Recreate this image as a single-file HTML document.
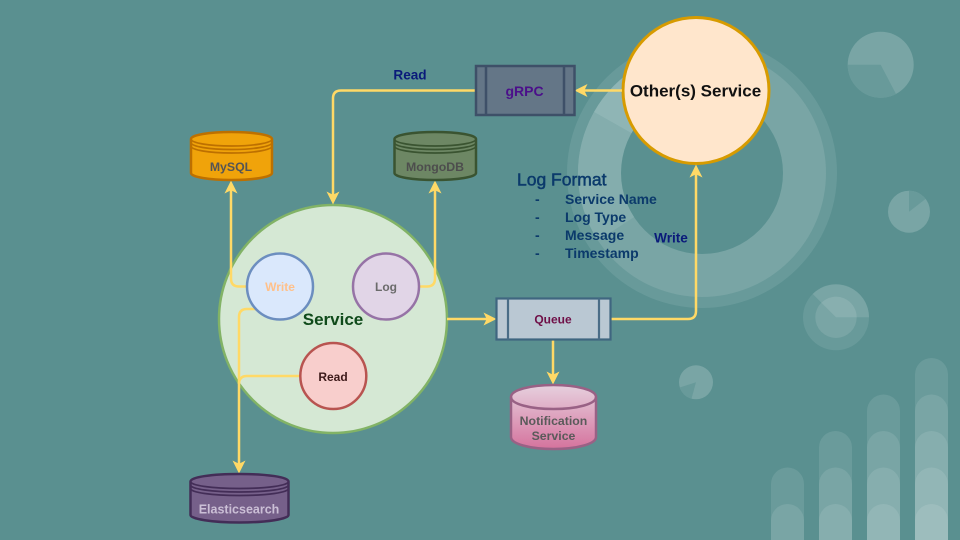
<!DOCTYPE html>
<html><head><meta charset="utf-8"><style>
html,body{margin:0;padding:0;background:#5a9090;overflow:hidden}
svg{display:block;filter:blur(.35px)}
text{font-family:"Liberation Sans",sans-serif;font-weight:bold;text-anchor:middle}
.l{text-anchor:start;font-size:14px;fill:#0b3a6b}
</style></head><body>
<svg width="960" height="540" viewBox="0 0 960 540" xmlns="http://www.w3.org/2000/svg">
<rect x="-5" y="-5" width="970" height="550" fill="#5a9090"/>
<!-- big donut -->
<circle cx="702" cy="173" r="135" fill="#689a9a"/>
<circle cx="702" cy="173" r="124" fill="#79a5a5"/>
<path d="M702,173 L598,240.500 A124,124 0 0 1 594,112 Z" fill="#84adad"/>
<path d="M702,173 L594,112 A124,124 0 0 1 702,49 Z" fill="#8fb5b5"/>
<circle cx="702" cy="173" r="81" fill="#5a9090"/>
<!-- pies -->
<circle cx="880.700" cy="64.700" r="33" fill="#79a5a5"/>
<path d="M880.700,64.700 L847.700,64.700 A33,33 0 0 0 896,94 Z" fill="#689a9a"/>
<circle cx="909" cy="211.700" r="21" fill="#79a5a5"/>
<path d="M909,211.700 L909,190.700 A21,21 0 0 1 925.500,199 Z" fill="#689a9a"/>
<circle cx="836" cy="317.300" r="33" fill="#689a9a"/>
<path d="M836,317.300 L812.700,294 A33,33 0 0 1 869,317.300 Z" fill="#79a5a5"/>
<circle cx="836" cy="317.300" r="20.700" fill="#79a5a5"/>
<path d="M836,317.300 L821.400,302.700 A20.700,20.700 0 0 1 856.700,317.300 Z" fill="#88afaf"/>
<circle cx="696" cy="382.300" r="17" fill="#79a5a5"/>
<path d="M696,382.300 L679.700,387.500 A17,17 0 0 0 691.500,398.700 Z" fill="#689a9a"/>
<!-- bars -->
<g fill="#fff" fill-opacity=".1">
<path d="M771,545V484a16.500,16.500 0 0 1 33,0V545Z"/>
<path d="M771,545V520.500a16.500,16.500 0 0 1 33,0V545Z"/>
<path d="M819,545V447.500a16.500,16.500 0 0 1 33,0V545Z"/>
<path d="M819,545V484a16.500,16.500 0 0 1 33,0V545Z"/>
<path d="M819,545V520.500a16.500,16.500 0 0 1 33,0V545Z"/>
<path d="M867,545V411a16.500,16.500 0 0 1 33,0V545Z"/>
<path d="M867,545V447.500a16.500,16.500 0 0 1 33,0V545Z"/>
<path d="M867,545V484a16.500,16.500 0 0 1 33,0V545Z"/>
<path d="M867,545V520.500a16.500,16.500 0 0 1 33,0V545Z"/>
<path d="M915,545V374.500a16.500,16.500 0 0 1 33,0V545Z"/>
<path d="M915,545V411a16.500,16.500 0 0 1 33,0V545Z"/>
<path d="M915,545V447.500a16.500,16.500 0 0 1 33,0V545Z"/>
<path d="M915,545V484a16.500,16.500 0 0 1 33,0V545Z"/>
<path d="M915,545V520.500a16.500,16.500 0 0 1 33,0V545Z"/>
</g>
<!-- Service circle -->
<circle cx="333" cy="319" r="114" fill="#d5e8d4" stroke="#82b366" stroke-width="2.500"/>
<!-- Other service -->
<circle cx="696" cy="90.500" r="73" fill="#ffe6cc" stroke="#d79b00" stroke-width="3"/>
<!-- connectors -->
<g fill="none" stroke="#ffd966" stroke-width="2.500">
<path d="M476,90.500H341Q333,90.500 333,98.500V196"/>
<path d="M622,90.500H584"/>
<path d="M248,286.500H239Q231,286.500 231,278.500V190"/>
<path d="M419,286.500H427Q435,286.500 435,278.500V190"/>
<path d="M257,309H247Q239,309 239,317V465"/>
<path d="M301,376H247Q239,376 239,384"/>
<path d="M447,319H487"/>
<path d="M553,340V375"/>
<path d="M611,319H688Q696,319 696,311V173"/>
</g>
<g fill="#ffd966">
<path d="M333,204.500l-6.500,-13l6.500,3.200l6.500,-3.200z"/>
<path d="M574.500,90.500l13,-6.500l-3.200,6.500l3.200,6.500z"/>
<path d="M231,180.500l-6.500,13l6.500,-3.200l6.500,3.200z"/>
<path d="M435,180.500l-6.500,13l6.500,-3.200l6.500,3.200z"/>
<path d="M239,473.500l-6.500,-13l6.500,3.200l6.500,-3.200z"/>
<path d="M496.500,319l-13,-6.500l3.200,6.500l-3.200,6.500z"/>
<path d="M553,384.500l-6.500,-13l6.500,3.200l6.500,-3.200z"/>
<path d="M696,164.500l-6.500,13l6.500,-3.200l6.500,3.200z"/>
</g>
<!-- inner circles -->
<circle cx="280" cy="286.500" r="33" fill="#dae8fc" stroke="#6c8ebf" stroke-width="2.500"/>
<circle cx="386" cy="286.500" r="33" fill="#e1d5e7" stroke="#9673a6" stroke-width="2.500"/>
<circle cx="333.300" cy="376" r="33" fill="#f8cecc" stroke="#b85450" stroke-width="2.500"/>
<!-- gRPC -->
<rect x="476" y="66" width="98.500" height="49" fill="#647687" stroke="#3e5068" stroke-width="2.500"/>
<path d="M486,66V115M564,66V115" stroke="#3e5068" stroke-width="2.500" fill="none"/>
<!-- Queue -->
<rect x="496.500" y="298.500" width="114" height="41" fill="#bac8d3" stroke="#3f6680" stroke-width="2.200"/>
<path d="M508,298.500V339.500M599,298.500V339.500" stroke="#4a6d87" stroke-width="2.200" fill="none"/>
<!-- MySQL -->
<g stroke="#bd7000" stroke-width="2.500" fill="#f0a30a">
<path d="M191,139V173C191,177 209,180 231.500,180S272,177 272,173V139C272,135 254,132 231.500,132S191,135 191,139Z"/>
<path d="M191,139C191,143 209,146 231.500,146S272,143 272,139M191,142.500C191,146.500 209,149.500 231.500,149.500S272,146.500 272,142.500M191,146C191,150 209,153 231.500,153S272,150 272,146" fill="none" stroke-width="1.700"/>
</g>
<!-- MongoDB -->
<g stroke="#3a5431" stroke-width="2.500" fill="#6d8764">
<path d="M394.500,139V173C394.500,177 412,180 435,180S476,177 476,173V139C476,135 458,132 435,132S394.500,135 394.500,139Z"/>
<path d="M394.500,139C394.500,143 412,146 435,146S476,143 476,139M394.500,142.500C394.500,146.500 412,149.500 435,149.500S476,146.500 476,142.500M394.500,146C394.500,150 412,153 435,153S476,150 476,146" fill="none" stroke-width="1.700"/>
</g>
<!-- Elasticsearch -->
<g stroke="#432d57" stroke-width="2.500" fill="#76608a">
<path d="M190.500,481.500V515C190.500,519 212,522.500 239.500,522.500S288.500,519 288.500,515V481.500C288.500,477 267,474 239.500,474S190.500,477 190.500,481.500Z"/>
<path d="M190.500,481.500C190.500,485.500 212,488.500 239.500,488.500S288.500,485.500 288.500,481.500M190.500,485C190.500,489 212,492 239.500,492S288.500,489 288.500,485M190.500,488.500C190.500,492.500 212,495.500 239.500,495.500S288.500,492.500 288.500,488.500" fill="none" stroke-width="1.700"/>
</g>
<!-- Notification -->
<defs><linearGradient id="g" x1="0" y1="0" x2="0" y2="1"><stop offset="0" stop-color="#e6d0de"/><stop offset="1" stop-color="#d5739d"/></linearGradient></defs>
<path d="M511,397V437C511,444 530,449 553.500,449S596,444 596,437V397C596,390 577,385 553.500,385S511,390 511,397Z" fill="url(#g)" stroke="#996185" stroke-width="2.500"/>
<path d="M511,397C511,404 530,409 553.500,409S596,404 596,397" fill="none" stroke="#996185" stroke-width="2.500"/>
<!-- text -->
<text x="410" y="79.500" font-size="13.600" fill="#0a1a7a">Read</text>
<text x="524.500" y="96" font-size="14" fill="#4b0f8a">gRPC</text>
<text x="695.500" y="96.500" font-size="17" fill="#111">Other(s) Service</text>
<text x="231" y="171" font-size="12.300" fill="#555">MySQL</text>
<text x="435" y="171" font-size="12.300" fill="#4d4d4d">MongoDB</text>
<text x="280" y="291" font-size="12" fill="#ffc08a">Write</text>
<text x="386" y="291" font-size="12" fill="#6b6b6b">Log</text>
<text x="333" y="325" font-size="17" fill="#0f4a1a">Service</text>
<text x="333" y="381" font-size="12" fill="#3d1a1a">Read</text>
<text x="553" y="323.500" font-size="12" fill="#6f0f47">Queue</text>
<text x="553.500" y="425" font-size="12.300" fill="#5a5a5a">Notification</text>
<text x="553.500" y="440" font-size="12.300" fill="#5a5a5a">Service</text>
<text x="239" y="513.500" font-size="12.500" fill="#cbbfd6">Elasticsearch</text>
<text x="671" y="242.500" font-size="13.600" fill="#0a1a7a">Write</text>
<text class="l" x="517" y="185.500" style="font-size:17.500px;font-weight:normal;stroke:#0b3a6b;stroke-width:.5">Log Format</text>
<text class="l" x="535" y="204">-</text><text class="l" x="565" y="204">Service Name</text>
<text class="l" x="535" y="222">-</text><text class="l" x="565" y="222">Log Type</text>
<text class="l" x="535" y="240">-</text><text class="l" x="565" y="240">Message</text>
<text class="l" x="535" y="258">-</text><text class="l" x="565" y="258">Timestamp</text>
</svg>
</body></html>
